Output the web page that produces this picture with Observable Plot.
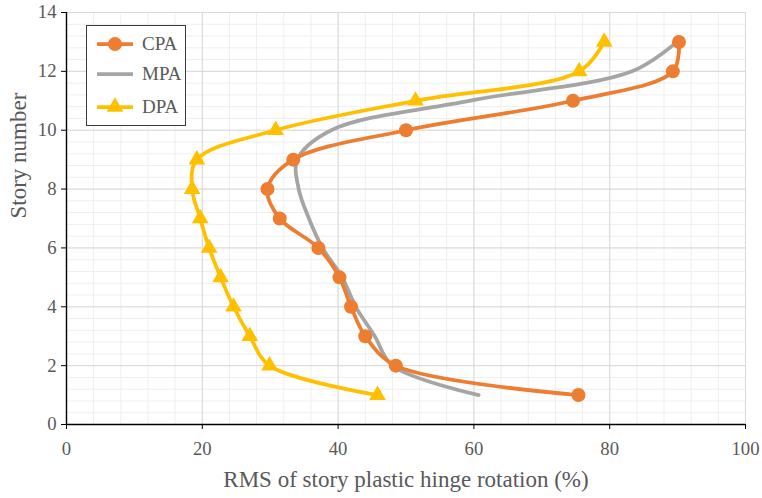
<!DOCTYPE html>
<html>
<head>
<meta charset="utf-8">
<script src="https://cdn.jsdelivr.net/npm/d3@7"></script>
<script src="https://cdn.jsdelivr.net/npm/@observablehq/plot@0.6"></script>
<style>
  html, body { margin: 0; padding: 0; background: #fff; }
  #wrap { position: relative; width: 762px; height: 498px; font-family: "Liberation Serif", serif; }
  #chart svg, #chart svg text { font-family: "Liberation Serif", serif !important; }
  #legend { position: absolute; left: 86px; top: 25px; width: 100px; height: 101px; box-sizing: border-box; border: 1px solid #3a3a3a; background: #fff; }
  .row { position: absolute; left: 0; height: 24px; width: 98px; }
  .row svg { position: absolute; left: 9px; top: 0; }
  .row span { position: absolute; left: 55px; top: 0; line-height: 24px; font-size: 19px; color: #595959; font-family: "Liberation Serif", serif; }
</style>
</head>
<body>
<div id="wrap">
  <div id="chart"></div>
  <div id="legend"></div>
</div>
<script>
// ---- data ----
const stories = [1, 2, 3, 4, 5, 6, 7, 8, 9, 10, 11, 12, 13];
const cpa = [75.4, 48.5, 44.0, 41.9, 40.2, 37.1, 31.4, 29.6, 33.4, 50.0, 74.6, 89.3, 90.2];
const mpa = [60.7, 48.0, 45.4, 42.6, 40.6, 37.7, 35.7, 34.2, 34.0, 39.0, 59.3, 83.3, 89.9];
const dpa = [45.8, 29.9, 27.0, 24.6, 22.7, 21.0, 19.7, 18.5, 19.2, 30.8, 51.4, 75.5, 79.2];
const seriesNames = ["CPA", "MPA", "DPA"];
const seriesColors = ["#ED7D31", "#A5A5A5", "#FFC000"];
const xTicks = [0, 20, 40, 60, 80, 100];
const yTicks = [0, 2, 4, 6, 8, 10, 12, 14];
const xMinor = d3.range(0, 101, 4);
const yMinor = d3.range(0, 36).map(i => Math.round(i * 4) / 10);
const xLabel = "RMS of story plastic hinge rotation (%)";
const yLabel = "Story number";
const FONT = "'Liberation Serif', serif";

const toRows = (vals, name) => stories.map((s, i) => ({story: s, value: vals[i], series: name}));
const cpaRows = toRows(cpa, "CPA");
const mpaRows = toRows(mpa, "MPA");
const dpaRows = toRows(dpa, "DPA");

const chart = Plot.plot({
  width: 762,
  height: 498,
  marginLeft: 66,
  marginRight: 17,
  marginTop: 12,
  marginBottom: 74,
  style: {fontFamily: FONT, background: "#fff"},
  x: {domain: [0, 100]},
  y: {domain: [0, 14]},
  marks: [
    Plot.ruleX(xMinor, {stroke: "#efefef", strokeWidth: 1}),
    Plot.ruleY(yMinor, {stroke: "#efefef", strokeWidth: 1}),
    Plot.ruleX(xTicks, {stroke: "#d9d9d9", strokeWidth: 1}),
    Plot.ruleY(yTicks, {stroke: "#d9d9d9", strokeWidth: 1}),
    Plot.axisX({ticks: xTicks, tickSize: 5, tickPadding: 12, stroke: "#000", fill: "#595959", fontSize: 18.7, fontFamily: FONT, label: null}),
    Plot.axisY({ticks: yTicks, tickSize: 5, tickPadding: 5, stroke: "#000", fill: "#595959", fontSize: 18.7, fontFamily: FONT, label: null}),
    Plot.ruleX([0], {stroke: "#000", strokeWidth: 1.4}),
    Plot.ruleY([0], {stroke: "#000", strokeWidth: 1.4}),
    Plot.text([xLabel], {frameAnchor: "bottom", dy: 62, fontSize: 23, fontFamily: FONT, fill: "#595959"}),
    Plot.text([yLabel], {frameAnchor: "left", dx: -48, rotate: -90, fontSize: 23, fontFamily: FONT, fill: "#595959"}),
    Plot.line(mpaRows, {x: "value", y: "story", stroke: seriesColors[1], strokeWidth: 3.75, curve: "catmull-rom"}),
    Plot.line(cpaRows, {x: "value", y: "story", stroke: seriesColors[0], strokeWidth: 3.75, curve: "catmull-rom"}),
    Plot.dot(cpaRows, {x: "value", y: "story", r: 7, fill: seriesColors[0], stroke: "none"}),
    Plot.line(dpaRows, {x: "value", y: "story", stroke: seriesColors[2], strokeWidth: 3.75, curve: "catmull-rom"}),
    Plot.dot(dpaRows, {x: "value", y: "story", r: 6.2, symbol: "triangle", fill: seriesColors[2], stroke: "none"})
  ]
});
document.getElementById("chart").appendChild(chart);

// ---- legend ----
const legend = document.getElementById("legend");
const rowTops = [6, 36, 69];
seriesNames.forEach((name, i) => {
  const row = document.createElement("div");
  row.className = "row";
  row.style.top = rowTops[i] + "px";
  const color = seriesColors[i];
  let marker = "";
  if (name === "CPA") marker = `<circle cx="19" cy="12" r="7" fill="${color}"/>`;
  if (name === "DPA") marker = `<path d="${d3.symbol(d3.symbolTriangle, Math.PI * 6.2 * 6.2)()}" transform="translate(19,12)" fill="${color}"/>`;
  row.innerHTML = `<svg width="40" height="24"><line x1="1" y1="12" x2="37" y2="12" stroke="${color}" stroke-width="3.75"/>${marker}</svg><span>${name}</span>`;
  legend.appendChild(row);
});
</script>
</body>
</html>
